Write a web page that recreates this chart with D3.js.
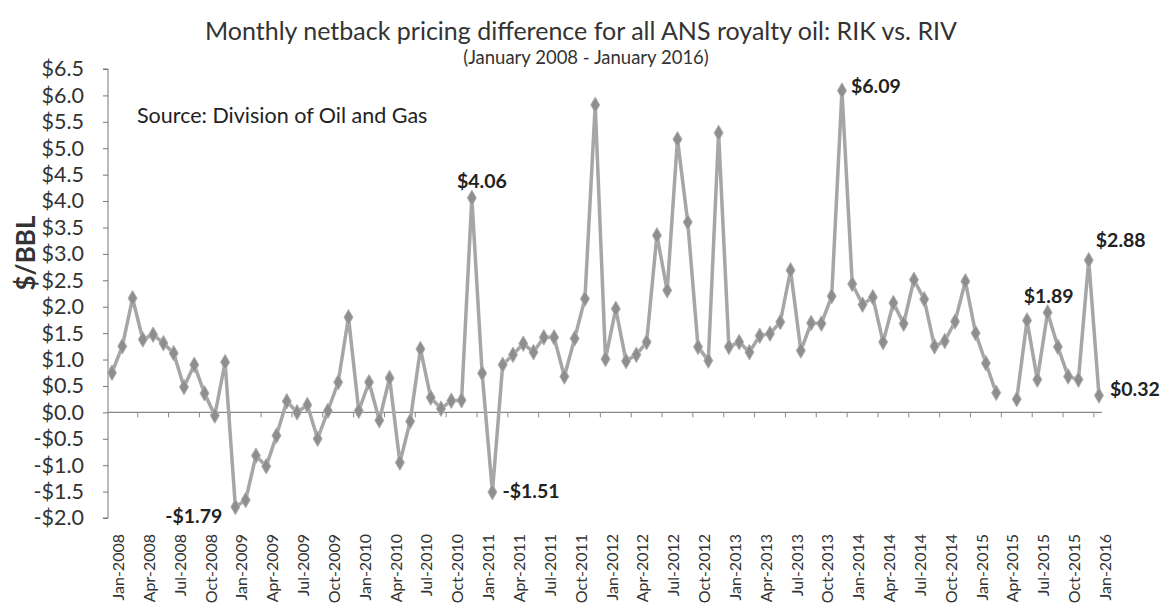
<!DOCTYPE html>
<html>
<head>
<meta charset="utf-8">
<script src="https://cdn.jsdelivr.net/npm/d3@7"></script>
<style>
  body { margin: 0; background: #fff; }
  svg { font-family: Lato, "Open Sans", sans-serif; }
</style>
</head>
<body>
<div id="chart"></div>
<script>
// months Jan-2008 .. Jan-2016
var months = [];
var monthNames = ["Jan","Feb","Mar","Apr","May","Jun","Jul","Aug","Sep","Oct","Nov","Dec"];
for (var yr = 2008; yr <= 2016; yr++) {
  monthNames.forEach(function(m) {
    if (yr < 2016 || m === "Jan") months.push(m + "-" + yr);
  });
}

// RIK minus RIV, $/BBL (Apr-2015 has no value)
var diffs = [
  0.75, 1.25, 2.16, 1.38, 1.47, 1.31, 1.12, 0.48, 0.90, 0.36, -0.06, 0.95,
  -1.79, -1.66, -0.82, -1.02, -0.44, 0.21, 0.00, 0.14, -0.50, 0.03, 0.57, 1.80,
  0.03, 0.57, -0.15, 0.65, -0.95, -0.17, 1.20, 0.28, 0.07, 0.22, 0.23, 4.06,
  0.74, -1.51, 0.90, 1.09, 1.30, 1.14, 1.42, 1.42, 0.68, 1.40, 2.15, 5.82,
  1.01, 1.96, 0.97, 1.09, 1.33, 3.35, 2.31, 5.17, 3.60, 1.24, 0.98, 5.29,
  1.24, 1.33, 1.14, 1.45, 1.49, 1.71, 2.69, 1.17, 1.69, 1.68, 2.20, 6.09,
  2.43, 2.04, 2.18, 1.33, 2.07, 1.68, 2.51, 2.14, 1.25, 1.35, 1.72, 2.48,
  1.50, 0.93, 0.37, null, 0.25, 1.74, 0.62, 1.89, 1.24, 0.68, 0.62, 2.88,
  0.32
];

var labelledMonths = ["Jan-2009", "Dec-2010", "Feb-2011", "Dec-2013", "Aug-2015", "Dec-2015", "Jan-2016"];
var yTicks = [-2, -1.5, -1, -0.5, 0, 0.5, 1, 1.5, 2, 2.5, 3, 3.5, 4, 4.5, 5, 5.5, 6, 6.5];

var title = "Monthly netback pricing difference for all ANS royalty oil: RIK vs. RIV";
var subtitle = "(January 2008 - January 2016)";
var sourceNote = "Source: Division of Oil and Gas";

var width = 1161, height = 606;
var margin = {top: 69, right: 62, bottom: 89, left: 108};

var svg = d3.select("#chart").append("svg")
    .attr("width", width)
    .attr("height", height);

var x = d3.scalePoint()
    .domain(months)
    .range([margin.left + 4, width - margin.right]);
var step = x.step();

var y = d3.scaleLinear()
    .domain([-2, 6.5])
    .range([height - margin.bottom + 1, margin.top]);

var money = function(v) {
  return (v < 0 ? "-$" : "$") + Math.abs(v).toFixed(1);
};

// titles
svg.append("text")
    .attr("x", 581).attr("y", 40)
    .attr("text-anchor", "middle")
    .attr("font-size", 25)
    .attr("fill", "#333")
    .text(title);

svg.append("text")
    .attr("x", 586).attr("y", 64)
    .attr("text-anchor", "middle")
    .attr("font-size", 18.5)
    .attr("fill", "#333")
    .text(subtitle);

svg.append("text")
    .attr("x", 137).attr("y", 123)
    .attr("font-size", 21.5)
    .attr("fill", "#222")
    .text(sourceNote);

// y axis
var yAxis = svg.append("g")
    .attr("transform", "translate(" + margin.left + ",0)")
    .call(d3.axisLeft(y).tickValues(yTicks).tickFormat(money).tickSize(5).tickPadding(19));
yAxis.select(".domain").attr("stroke", "#777").attr("d",
    "M-5," + y(6.5) + "H0V" + y(-2) + "H-5");
yAxis.selectAll(".tick line").attr("stroke", "#777");
yAxis.selectAll(".tick text")
    .attr("font-size", 21.5)
    .attr("font-family", "Lato, 'Open Sans', sans-serif")
    .attr("fill", "#333");

svg.append("text")
    .attr("transform", "translate(35,253) rotate(-90)")
    .attr("text-anchor", "middle")
    .attr("font-size", 26)
    .attr("font-weight", "bold")
    .attr("fill", "#333")
    .text("$/BBL");

// x axis on the zero line, ticks between categories every 3 months
var xAxisG = svg.append("g");
xAxisG.append("line")
    .attr("x1", margin.left).attr("x2", x(months[months.length - 1]) + 3)
    .attr("y1", y(0)).attr("y2", y(0))
    .attr("stroke", "#888").attr("stroke-width", 1.3);

var quarterMonths = months.filter(function(d, i) { return i % 3 === 0; });
xAxisG.selectAll(".qtick")
    .data(quarterMonths.slice(1))
    .enter().append("line")
    .attr("x1", function(d) { return x(d) - step / 2; })
    .attr("x2", function(d) { return x(d) - step / 2; })
    .attr("y1", y(0)).attr("y2", y(0) + 5)
    .attr("stroke", "#888");

svg.append("g").selectAll(".xlabel")
    .data(quarterMonths)
    .enter().append("text")
    .attr("transform", function(d) { return "translate(" + (x(d) + 12) + ",534) rotate(-90)"; })
    .attr("text-anchor", "end")
    .attr("font-size", 16)
    .attr("fill", "#333")
    .text(function(d) { return d; });

// series
var points = months.map(function(m, i) { return {month: m, value: diffs[i]}; });

var line = d3.line()
    .defined(function(d) { return d.value !== null; })
    .x(function(d) { return x(d.month); })
    .y(function(d) { return y(d.value); });

svg.append("path")
    .datum(points)
    .attr("fill", "none")
    .attr("stroke", "#a6a6a6")
    .attr("stroke-width", 3.5)
    .attr("stroke-linejoin", "round")
    .attr("d", line);

svg.append("g").selectAll("path.marker")
    .data(points.filter(function(d) { return d.value !== null; }))
    .enter().append("path")
    .attr("class", "marker")
    .attr("d", d3.symbol().type(d3.symbolDiamond).size(70))
    .attr("transform", function(d) { return "translate(" + x(d.month) + "," + y(d.value) + ")"; })
    .attr("fill", "#8e8e8e")
    .attr("stroke", "#b0b0b0")
    .attr("stroke-width", 1);

// data labels
var labelPlace = {
  "Jan-2009": {dx: -13, dy: 11, anchor: "end"},
  "Dec-2010": {dx: 10, dy: -15, anchor: "middle"},
  "Feb-2011": {dx: 10, dy: 1, anchor: "start"},
  "Dec-2013": {dx: 9, dy: -3, anchor: "start"},
  "Aug-2015": {dx: 1, dy: -15, anchor: "middle"},
  "Dec-2015": {dx: 32, dy: -18, anchor: "middle"},
  "Jan-2016": {dx: 11, dy: -4, anchor: "start"}
};

svg.append("g").selectAll("text.dlabel")
    .data(points.filter(function(d) { return labelledMonths.indexOf(d.month) >= 0; }))
    .enter().append("text")
    .attr("class", "dlabel")
    .attr("x", function(d) { return x(d.month) + labelPlace[d.month].dx; })
    .attr("y", function(d) { return y(d.value) + labelPlace[d.month].dy; })
    .attr("text-anchor", function(d) { return labelPlace[d.month].anchor; })
    .attr("dominant-baseline", "middle")
    .attr("font-size", 19.5)
    .attr("font-weight", "bold")
    .attr("fill", "#222")
    .text(function(d) { return (d.value < 0 ? "-$" : "$") + Math.abs(d.value).toFixed(2); });
</script>
</body>
</html>
